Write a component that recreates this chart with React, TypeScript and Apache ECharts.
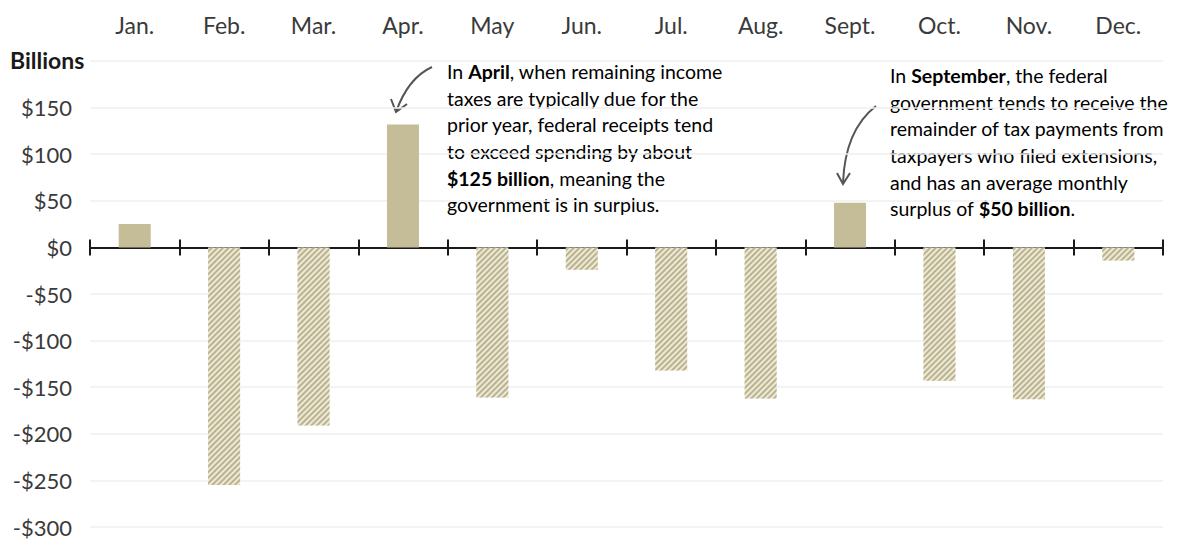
import React, { useEffect, useRef } from "react";
import * as echarts from "echarts";

const months = ["Jan.", "Feb.", "Mar.", "Apr.", "May", "Jun.", "Jul.", "Aug.", "Sept.", "Oct.", "Nov.", "Dec."];
const balance = [25, -255, -191, 132, -161, -24, -132, -162, 48, -143, -163, -14];
const yTicks = [-300, -250, -200, -150, -100, -50, 0, 50, 100, 150, 200];

const aprilLines = [
  "{r|In }{b|April}{r|, when remaining income}",
  "{r|taxes are typically due for the}",
  "{r|prior year, federal receipts tend}",
  "{r|to exceed spending by about}",
  "{b|$125 billion}{r|, meaning the}",
  "{r|government is in surplus.}",
];
const septLines = [
  "{r|In }{b|September}{r|, the federal}",
  "{r|government tends to receive the}",
  "{r|remainder of tax payments from}",
  "{r|taxpayers who filed extensions,}",
  "{r|and has an average monthly}",
  "{r|surplus of }{b|$50 billion}{r|.}",
];

const FONT = "Lato, 'Open Sans', sans-serif";
const POS = "#c4bd97";
const NEG_BG = "#ece9da";
const NEG_LINE = "#bab38c";

export default function App() {
  const ref = useRef<HTMLDivElement>(null);
  useEffect(() => {
    if (!ref.current) return;
    const chart = echarts.init(ref.current, null, { renderer: "svg" });
    const rich = {
      r: { fontFamily: FONT, fontSize: 19.5, color: "#1e1e1e", lineHeight: 26.7 },
      b: { fontFamily: FONT, fontSize: 19.5, color: "#1e1e1e", fontWeight: "bold", lineHeight: 26.7 },
    };
    const arrowStyle = { stroke: "#555", lineWidth: 2, fill: null };
    const tickStyle = { show: true, length: 8, lineStyle: { color: "#1a1a1a", width: 2 } };
    chart.setOption({
      animation: false,
      grid: { left: 90, right: 15, top: 61, bottom: 12, containLabel: false },
      xAxis: [
        {
          type: "category",
          data: months,
          position: "bottom",
          axisLine: { onZero: true, onZeroAxisIndex: 0, lineStyle: { color: "#1a1a1a", width: 2 } },
          axisTick: tickStyle,
          axisLabel: { show: false },
          splitLine: { show: false },
        },
        {
          type: "category",
          data: months,
          position: "top",
          axisLine: { onZero: true, onZeroAxisIndex: 1, show: false },
          axisTick: tickStyle,
          axisLabel: { show: false },
        },
        {
          type: "category",
          data: months,
          position: "top",
          axisLine: { onZero: false, show: false },
          axisTick: { show: false },
          axisLabel: { show: true, margin: 25, fontFamily: FONT, fontSize: 23, color: "#3a3a3a" },
        },
      ],
      yAxis: [
        {
          type: "value",
          min: -300,
          max: 200,
          interval: 50,
          axisLine: { show: false },
          axisTick: { show: false },
          splitLine: { show: true, lineStyle: { color: "#efefef", width: 1.5 } },
          axisLabel: {
            margin: 18,
            fontFamily: FONT,
            fontSize: 22,
            lineHeight: 16,
            color: "#3a3a3a",
            formatter: (v: number) => {
              if (!yTicks.includes(v) || v === 200) return "";
              return v < 0 ? "-$" + Math.abs(v) : "$" + v;
            },
          },
        },
        {
          type: "value",
          min: -300,
          max: 200,
          interval: 50,
          axisLine: { show: false },
          axisTick: { show: false },
          splitLine: { show: false },
          axisLabel: { show: false },
        },
      ],
      series: [
        {
          type: "bar",
          xAxisIndex: 0,
          yAxisIndex: 0,
          barWidth: 32,
          data: balance.map((v) =>
            v >= 0
              ? { value: v, itemStyle: { color: POS } }
              : {
                  value: v,
                  itemStyle: {
                    color: NEG_BG,
                    decal: {
                      symbol: "rect",
                      symbolSize: 1,
                      color: NEG_LINE,
                      dashArrayX: [1, 0],
                      dashArrayY: [2, 2],
                      rotation: -Math.PI / 4,
                    },
                  },
                }
          ),
        },
      ],
      graphic: [
        {
          type: "text",
          left: 10,
          top: 48,
          style: { text: "Billions", fontFamily: FONT, fontSize: 23, fontWeight: "bold", fill: "#1a1a1a" },
        },
        {
          type: "text",
          x: 447,
          y: 58,
          style: { text: aprilLines.join("\n"), rich },
        },
        {
          type: "text",
          x: 890,
          y: 62,
          style: { text: septLines.join("\n"), rich },
        },
        {
          type: "bezierCurve",
          shape: { x1: 432, y1: 67, cpx1: 408, cpy1: 78, x2: 396, y2: 112 },
          style: arrowStyle,
        },
        {
          type: "polyline",
          shape: { points: [[391, 99], [396, 112], [407, 104]] },
          style: arrowStyle,
        },
        {
          type: "bezierCurve",
          shape: { x1: 876, y1: 106, cpx1: 845, cpy1: 130, x2: 843, y2: 183 },
          style: arrowStyle,
        },
        {
          type: "polyline",
          shape: { points: [[837, 173], [843, 184], [850, 173]] },
          style: arrowStyle,
        },
      ],
    });
    return () => chart.dispose();
  }, []);
  return (
    <div
      ref={ref}
      style={{ position: "fixed", left: 0, top: 0, width: 1178, height: 539, background: "#fff" }}
    />
  );
}
